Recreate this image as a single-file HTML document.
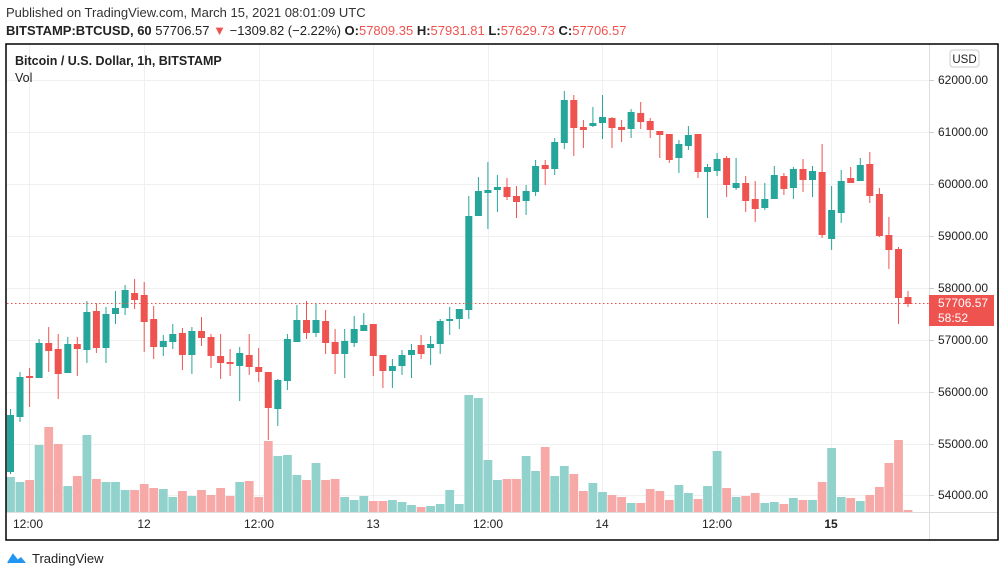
<!DOCTYPE html>
<html><head><meta charset="utf-8"><style>
html,body{margin:0;padding:0;background:#fff;width:1006px;height:577px;overflow:hidden;font-family:"Liberation Sans",sans-serif;}
svg text{font-family:"Liberation Sans",sans-serif;}
</style></head><body>
<svg id="s" width="1006" height="577" xmlns="http://www.w3.org/2000/svg">
<rect x="0" y="0" width="1006" height="577" fill="#fff"/>
<text x="6" y="17" font-size="13" fill="#333">Published on TradingView.com, March 15, 2021 08:01:09 UTC</text>
<text x="6" y="35" font-size="13" fill="#222"><tspan font-weight="bold">BITSTAMP:BTCUSD, 60</tspan> 57706.57 <tspan fill="#ef5350">▼</tspan> −1309.82 (−2.22%) <tspan font-weight="bold">O:</tspan><tspan fill="#ef5350">57809.35</tspan> <tspan font-weight="bold">H:</tspan><tspan fill="#ef5350">57931.81</tspan> <tspan font-weight="bold">L:</tspan><tspan fill="#ef5350">57629.73</tspan> <tspan font-weight="bold">C:</tspan><tspan fill="#ef5350">57706.57</tspan></text>
<g id="grid" stroke="#f0f0f0" stroke-width="1"></g>
<g id="vol"></g>
<g id="cdl"></g>
<line x1="7" y1="303.5" x2="929" y2="303.5" stroke="#ef5350" stroke-dasharray="1.5,2.5" stroke-width="1"/>
<line x1="929.5" y1="44" x2="929.5" y2="540" stroke="#ddd"/>
<line x1="7" y1="512.5" x2="998" y2="512.5" stroke="#ddd"/>
<rect x="6" y="44" width="992" height="496" fill="none" stroke="#000" stroke-width="1.5"/>
<text x="15" y="65" font-size="12.5" font-weight="bold" fill="#222">Bitcoin / U.S. Dollar, 1h, BITSTAMP</text>
<text x="15" y="82" font-size="12.5" fill="#222">Vol</text>
<rect x="950" y="50" width="29" height="17" rx="3" fill="#fff" stroke="#ccc"/>
<text x="964.5" y="63" font-size="11.5" fill="#222" text-anchor="middle">USD</text>
<g id="pax" font-size="12" fill="#222"></g>
<rect x="929" y="295" width="65" height="31" fill="#ef5350"/>
<text x="938" y="307" font-size="12" fill="#fff">57706.57</text>
<text x="938" y="322" font-size="12" fill="#fff">58:52</text>
<g font-size="12" fill="#222" text-anchor="middle">
<text x="28" y="528">12:00</text><text x="144" y="528">12</text><text x="259" y="528">12:00</text><text x="373" y="528">13</text>
<text x="488" y="528">12:00</text><text x="602" y="528">14</text><text x="717" y="528">12:00</text><text x="831" y="528" font-weight="bold">15</text>
</g>
<path d="M8 563 l5 -8 l4 5 l4 -3 l5 6 z" fill="#2196f3"/>
<path d="M8 563 l5 -8 l4 5" fill="none" stroke="#2196f3" stroke-width="2"/>
<text x="32" y="563" font-size="13" fill="#222">TradingView</text>
</svg>
<script>
const NS="http://www.w3.org/2000/svg";
function el(p,t,a){const e=document.createElementNS(NS,t);for(const k in a)e.setAttribute(k,a[k]);p.appendChild(e);return e;}
const G=document.getElementById('grid');
[80,132,184,236,288,340,392,444,495].forEach(y=>el(G,'line',{x1:7,y1:y+.5,x2:929,y2:y+.5}));
[29,144,259,373,488,602,717,831].forEach(x=>el(G,'line',{x1:x+.5,y1:44,x2:x+.5,y2:512}));
const P=document.getElementById('pax');
const pr=["62000.00","61000.00","60000.00","59000.00","58000.00","57000.00","56000.00","55000.00","54000.00"];
[80,132,184,236,288,340,392,444,495].forEach((y,i)=>{el(P,'line',{x1:929,y1:y+.5,x2:934,y2:y+.5,stroke:'#ccc'});const t=el(P,'text',{x:938,y:y+4});t.textContent=pr[i];});
// [color, bodyTop, bodyBottom, high, low]
const C=[
['g',415,472,409,474],['g',377,417,372,422],['r',376,378,368,407],['g',343,378,339,378],['r',343,351,327,372],
['r',349,374,334,399],['g',344,373,337,373],['r',344,349,337,376],['g',312,350,301,363],['r',311,348,303,353],
['g',314,348,307,363],['g',308,314,291,324],['g',290,308,285,315],['r',293,300,279,309],['r',295,322,282,352],
['r',319,347,306,359],['g',341,347,335,356],['g',334,342,324,349],['r',333,355,328,370],['g',331,355,327,374],
['r',331,338,317,346],['r',337,356,334,368],['r',356,363,334,379],['r',362,364,349,376],['g',353,366,347,401],
['r',355,367,334,375],['r',367,372,348,382],['r',372,408,372,440],['g',380,409,379,426],['g',339,381,334,390],
['g',320,342,305,342],['r',320,333,301,339],['g',320,333,303,337],['r',321,343,310,354],['r',342,354,329,374],
['g',341,354,329,378],['g',329,343,316,347],['g',325,331,313,331],['r',324,356,324,376],['r',355,371,355,388],
['g',366,371,359,388],['g',355,366,350,375],['g',350,355,344,378],['r',345,354,335,359],['g',344,348,336,365],
['g',321,344,319,354],['g',319,321,307,335],['g',309,319,309,329],['g',216,310,196,319],['g',191,216,177,216],
['g',190,193,162,229],['g',187,190,175,212],['r',187,197,178,200],['r',196,202,186,218],['g',191,201,185,215],
['g',166,192,160,196],['r',165,169,160,185],['g',142,169,138,175],['g',100,143,91,149],['r',100,128,95,156],
['r',127,130,120,148],['g',123,126,107,127],['g',117,123,95,139],['r',118,128,117,148],['r',127,130,120,142],
['g',112,129,109,138],['r',113,122,102,129],['r',121,130,118,138],['r',131,135,131,158],['r',134,160,134,163],
['g',144,158,140,173],['g',135,146,126,150],['r',134,172,134,178],['g',167,172,164,218],['g',159,171,153,176],
['r',158,185,156,197],['g',183,188,158,190],['r',183,201,176,212],['r',199,209,181,222],['g',199,208,183,210],
['g',175,199,166,199],['r',176,189,173,195],['g',169,188,167,199],['r',169,180,159,192],['g',171,180,166,197],
['r',172,235,144,238],['g',210,239,186,250],['g',181,213,170,223],['r',178,183,167,183],['g',165,181,158,181],
['r',164,196,152,203],['r',194,236,188,237],['r',235,250,217,269],['r',249,298,247,324],['r',297,304,291,307]];
const V=[477,482,480,445,427,444,486,476,435,479,482,482,490,490,484,488,489,497,491,496,490,495,488,496,482,481,497,441,456,455,
475,480,463,480,479,497,500,496,501,501,500,502,505,507,506,504,490,504,395,398,460,480,479,479,456,471,447,476,466,474,
491,483,492,495,497,503,503,489,491,500,485,493,499,486,451,488,497,496,493,503,502,504,498,500,500,482,448,497,498,501,
495,487,463,440,510];
const CG=document.getElementById('cdl'),VG=document.getElementById('vol');
C.forEach((c,i)=>{
  const x=10.5+i*9.548;const col=c[0]=='g'?'#26a69a':'#ef5350';
  el(VG,'rect',{x:(x-4.4).toFixed(1),y:V[i],width:8.8,height:512-V[i],fill:c[0]=='g'?'#92d2cc':'#f7a9a7'});
  el(CG,'line',{x1:x.toFixed(1),y1:c[3],x2:x.toFixed(1),y2:c[4],stroke:col,'stroke-width':1});
  el(CG,'rect',{x:(x-3.5).toFixed(1),y:c[1],width:7,height:Math.max(1,c[2]-c[1]),fill:col});
});
</script>
</body></html>
